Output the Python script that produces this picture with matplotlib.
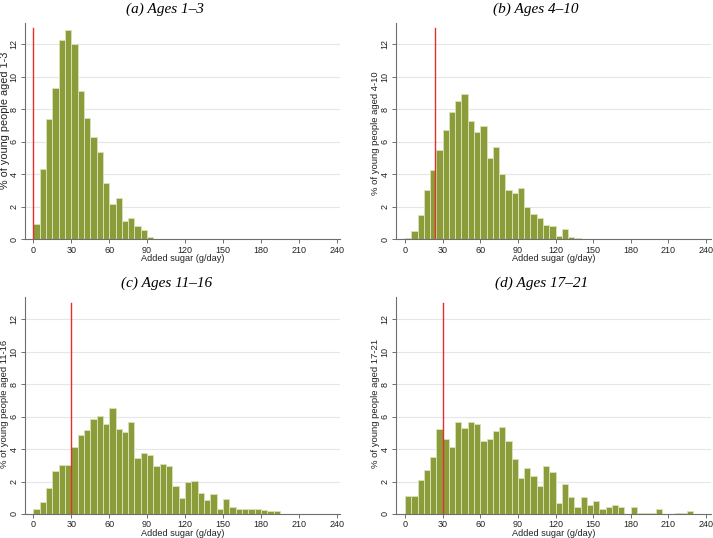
import numpy as np
import matplotlib
matplotlib.use('Agg')
import matplotlib.pyplot as plt

# % of young people per 5 g/day bin of added sugar, bins start at 0
bin_width = 5
ages_1_3 = [0.92, 4.35, 7.4, 9.31, 12.27, 12.92, 12.0, 9.13, 7.5, 6.28, 5.4, 3.49,
            2.15, 2.52, 1.13, 1.29, 0.82, 0.55, 0.14]
ages_4_10 = [0.06, 0.5, 1.5, 3.05, 4.25, 5.5, 6.75, 7.85, 8.5, 8.95, 7.3, 6.6, 6.95,
             5.0, 5.7, 4.0, 3.05, 2.85, 3.15, 2.0, 1.58, 1.3, 0.86, 0.82, 0.2, 0.66,
             0.14, 0.06]
ages_11_16 = [0.29, 0.74, 1.62, 2.63, 3.0, 3.0, 4.1, 4.84, 5.19, 5.87, 6.05, 5.56,
              6.52, 5.25, 5.05, 5.68, 3.45, 3.75, 3.63, 2.95, 3.06, 2.93, 1.72, 0.98,
              1.97, 2.03, 1.27, 0.86, 1.21, 0.29, 0.9, 0.43, 0.29, 0.33, 0.29, 0.29,
              0.23, 0.18, 0.16]
ages_17_21 = [1.13, 1.13, 2.09, 2.71, 3.53, 5.21, 4.6, 4.12, 5.68, 5.31, 5.68, 5.56,
              4.51, 4.62, 5.09, 5.33, 4.49, 3.41, 2.22, 2.81, 2.34, 1.72, 2.93, 2.58,
              0.66, 1.87, 1.03, 0.41, 1.03, 0.55, 0.8, 0.31, 0.43, 0.53, 0.41, 0.0,
              0.41, 0.08, 0.08, 0.08, 0.31, 0.0, 0.0, 0.08, 0.08, 0.18]

titles = ['(a) Ages 1\u20133', '(b) Ages 4\u201310', '(c) Ages 11\u201316', '(d) Ages 17\u201321']
ylabels = ['% of young people aged 1-3', '% of young people aged 4-10',
           '% of young people aged 11-16', '% of young people aged 17-21']
guideline = [0, 24, 30, 30]   # red reference line (g/day)
xticks = [0, 30, 60, 90, 120, 150, 180, 210, 240]
yticks = [0, 2, 4, 6, 8, 10, 12]

bar_color = '#8b9c3b'
edge_color = '#d9dfb5'
axis_color = '#6e6e6e'
text_color = '#222222'

W, H = 713, 538
fig = plt.figure(figsize=(W / 100, H / 100), dpi=100)
fig.patch.set_facecolor('white')

# panel boxes in pixels: left, right, bottom, top
boxes = [(25, 340, 239.3, 22.7), (396, 711, 239.3, 22.7),
         (25, 340, 514, 297.3), (396, 711, 514, 297.3)]
xlims = [(-6.6, 242.6), (-7.2, 244), (-6.6, 242.6), (-7.2, 244)]
title_pos = [(165, 9), (536, 9), (167, 283), (542, 283)]
# y-label: x centre, y centre (pixels), font size
ylab_pos = [(5, 120, 7.8), (375, 133.5, 6.8), (5, 403.5, 6.8), (375, 403.5, 6.8)]
xlab_y = [258.5, 258.5, 533, 533]

data = [ages_1_3, ages_4_10, ages_11_16, ages_17_21]

for i in range(4):
    l, r, b, t = boxes[i]
    ax = fig.add_axes([l / W, 1 - b / H, (r - l) / W, (b - t) / H])
    vals = data[i]
    lefts = np.arange(len(vals)) * bin_width
    ax.bar(lefts, vals, width=bin_width, align='edge', color=bar_color,
           edgecolor=edge_color, linewidth=0.7, zorder=2)
    ax.plot([guideline[i], guideline[i]], [0, 13], color='#e5302a', lw=1.0, zorder=3)

    ax.set_xlim(*xlims[i])
    ax.set_ylim(0, 13.34)
    ax.set_xticks(xticks)
    ax.set_yticks(yticks)
    ax.grid(axis='y', color='#e6e6e6', lw=0.8, zorder=0)
    for s in ['top', 'right']:
        ax.spines[s].set_visible(False)
    for s in ['left', 'bottom']:
        ax.spines[s].set_color(axis_color)
        ax.spines[s].set_linewidth(0.8)
    ax.tick_params(colors=axis_color, labelcolor=text_color, labelsize=6.5,
                   length=3, width=0.7, pad=1.5)
    for lab in ax.get_yticklabels():
        lab.set_rotation(90)
        lab.set_va('center')
        lab.set_family('Liberation Sans')
    for lab in ax.get_xticklabels():
        lab.set_family('Liberation Sans')

    # axis titles placed where the reference has them
    ax.set_xlabel('Added sugar (g/day)', fontsize=6.6, family='Liberation Sans',
                  color=text_color)
    ax.xaxis.set_label_coords(0.5, (b - xlab_y[i]) / (b - t))
    ax.xaxis.label.set_va('center')
    yx, yy, yfs = ylab_pos[i]
    ax.set_ylabel(ylabels[i], fontsize=yfs, family='Liberation Sans',
                  color=text_color)
    ax.yaxis.set_label_coords((yx - l) / (r - l), (b - yy) / (b - t))
    ax.yaxis.label.set_va('center')

    tx, ty = title_pos[i]
    fig.text(tx / W, 1 - ty / H, titles[i], ha='center', va='center',
             family='Liberation Serif', style='italic', fontsize=11)

fig.savefig('out.png', dpi=100)
